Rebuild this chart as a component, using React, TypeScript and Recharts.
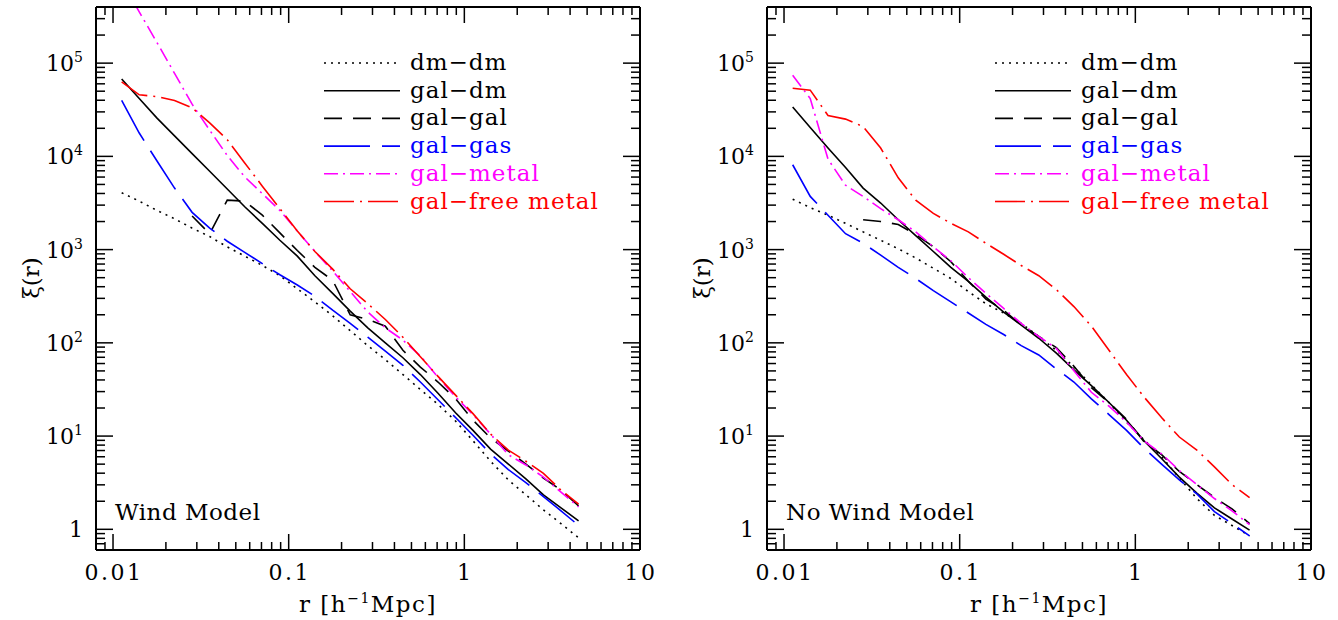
import React from 'react';
import { LineChart, Line, XAxis, YAxis, Legend } from 'recharts';

// pair separation r [h^-1 Mpc], 0.1 dex bins
const R = [
  0.0112, 0.0141, 0.0178, 0.0224, 0.0282, 0.0355, 0.0447, 0.0562, 0.0708, 0.0891,
  0.112, 0.141, 0.178, 0.224, 0.282, 0.355, 0.447, 0.562, 0.708, 0.891,
  1.12, 1.41, 1.78, 2.24, 2.82, 3.55, 4.47,
];

// Wind model
const WIND_DM_DM = [4070, 3310, 2630, 2140, 1700, 1380, 1070, 851, 676, 525, 380, 275, 195, 135, 93.3, 66.1, 45.7, 31.6, 21.9, 14.5, 8.91, 5.37, 3.39, 2.34, 1.62, 1.15, 0.81];
const WIND_GAL_DM = [67600, 41700, 25700, 16600, 10700, 6920, 4470, 2880, 1910, 1260, 851, 525, 339, 219, 145, 100, 69.2, 45.7, 28.8, 17.8, 11.5, 7.24, 5.01, 3.47, 2.34, 1.7, 1.23];
const WIND_GAL_GAL = [null, null, null, null, 2290, 1480, 3390, 3310, 2340, 1510, 977, 646, 468, 200, 178, 151, 83.2, 55.0, 38.0, 25.1, 14.8, 9.55, 6.92, 5.01, 3.55, 2.63, 1.78];
const WIND_GAL_GAS = [39800, 17800, 8910, 4570, 2510, 1700, 1230, 933, 708, 537, 417, 316, 224, 162, 115, 81.3, 57.5, 38.0, 24.5, 15.8, 10.2, 6.46, 4.37, 3.16, 2.24, 1.58, 1.1];
const WIND_GAL_METAL = [759000, 355000, 166000, 77600, 36300, 19100, 10200, 6030, 3980, 2630, 1580, 955, 589, 355, 214, 145, 107, 72.4, 42.7, 26.3, 17.0, 10.5, 6.31, 4.9, 3.63, 2.51, 1.74];
const WIND_GAL_FREE = [63100, 45700, 43700, 39800, 33100, 22900, 15100, 8510, 4790, 2750, 1580, 955, 617, 380, 263, 178, 115, 70.8, 43.7, 27.5, 17.4, 10.5, 7.08, 5.37, 3.98, 2.63, 1.86];

// No wind model
const NOWIND_DM_DM = [3470, 2820, 2340, 1910, 1550, 1260, 1020, 813, 631, 490, 355, 263, 209, 162, 117, 83.2, 55.0, 35.5, 22.9, 14.1, 9.12, 6.03, 3.55, 2.14, 1.41, 1.1, 0.85];
const NOWIND_GAL_DM = [33900, 20400, 12300, 7590, 4570, 3160, 2090, 1410, 955, 646, 457, 309, 214, 155, 112, 77.6, 51.3, 34.7, 22.9, 14.8, 8.91, 5.75, 3.63, 2.45, 1.7, 1.29, 0.98];
const NOWIND_GAL_GAL = [null, null, null, null, 2090, 2000, 1860, 1450, 1070, 741, 457, 295, 224, 155, 117, 89.1, 56.2, 33.1, 22.9, 15.1, 8.71, 6.31, 4.17, 3.02, 2.19, 1.66, 1.15];
const NOWIND_GAL_GAS = [8130, 3720, 2340, 1480, 1170, 871, 646, 490, 363, 275, 209, 158, 123, 93.3, 74.1, 52.5, 38.0, 25.1, 17.0, 11.5, 7.41, 5.01, 3.39, 2.4, 1.55, 1.15, 0.85];
const NOWIND_GAL_METAL = [74100, 41700, 9330, 4900, 3720, 2750, 2090, 1550, 1070, 759, 501, 339, 234, 162, 117, 87.1, 50.1, 29.5, 20.9, 14.1, 8.91, 6.46, 4.27, 3.02, 2.14, 1.58, 1.12];
const NOWIND_GAL_FREE = [53700, 51300, 27500, 25100, 20900, 12300, 5890, 3390, 2450, 1910, 1550, 1170, 891, 676, 525, 372, 245, 151, 83.2, 45.7, 26.3, 15.8, 9.77, 7.08, 4.68, 3.02, 2.19];

const X_TICKS = [
  0.009, 0.01, 0.02, 0.03, 0.04, 0.05, 0.06, 0.07, 0.08, 0.09,
  0.1, 0.2, 0.3, 0.4, 0.5, 0.6, 0.7, 0.8, 0.9,
  1, 2, 3, 4, 5, 6, 7, 8, 9, 10,
];
const Y_TICKS = [
  0.7, 0.8, 0.9, 1, 2, 3, 4, 5, 6, 7, 8, 9,
  10, 20, 30, 40, 50, 60, 70, 80, 90,
  100, 200, 300, 400, 500, 600, 700, 800, 900,
  1000, 2000, 3000, 4000, 5000, 6000, 7000, 8000, 9000,
  10000, 20000, 30000, 40000, 50000, 60000, 70000, 80000, 90000,
  100000, 200000, 300000,
];

const X_DOMAIN = [0.008, 10];
const Y_DOMAIN = [0.6, 400000];

const SERIES = [
  { key: 'dmdm', name: 'dm\u2212dm', color: '#000000', dash: '2 5' },
  { key: 'galdm', name: 'gal\u2212dm', color: '#000000', dash: undefined },
  { key: 'galgal', name: 'gal\u2212gal', color: '#000000', dash: '18 11' },
  { key: 'galgas', name: 'gal\u2212gas', color: '#0000ff', dash: '46 12' },
  { key: 'galmetal', name: 'gal\u2212metal', color: '#ff00ff', dash: '14 5 2 5' },
  { key: 'galfree', name: 'gal\u2212free metal', color: '#ff0000', dash: '30 6 2 6' },
];

const makeRows = (cols: Record<string, (number | null)[]>) =>
  R.map((r, i) => {
    const row: Record<string, number | null> = { r };
    Object.keys(cols).forEach(k => { row[k] = cols[k][i]; });
    return row;
  });

const WIND_ROWS = makeRows({
  dmdm: WIND_DM_DM, galdm: WIND_GAL_DM, galgal: WIND_GAL_GAL,
  galgas: WIND_GAL_GAS, galmetal: WIND_GAL_METAL, galfree: WIND_GAL_FREE,
});
const NOWIND_ROWS = makeRows({
  dmdm: NOWIND_DM_DM, galdm: NOWIND_GAL_DM, galgal: NOWIND_GAL_GAL,
  galgas: NOWIND_GAL_GAS, galmetal: NOWIND_GAL_METAL, galfree: NOWIND_GAL_FREE,
});

const FONT = '"DejaVu Serif", serif';
const MAJOR = 16;
const MINOR = 8;

const isMajor = (v: number) => Math.abs(Math.log10(v) - Math.round(Math.log10(v))) < 1e-6;

const BottomTick = (props: any) => {
  const { x, y, payload } = props;
  const v = payload.value;
  const major = isMajor(v);
  return (
    <g>
      <line x1={x} x2={x} y1={y} y2={y - (major ? MAJOR : MINOR)} stroke="#000" strokeWidth={1.5} />
      {major && (
        <text x={x + 1} y={y + 30} textAnchor="middle" fontSize={22} letterSpacing={2.5} fontFamily={FONT} fill="#000">
          {String(v)}
        </text>
      )}
    </g>
  );
};

// top axis is 1px tall, so its tick origin sits on the frame line
const TopTick = (props: any) => {
  const { x, y, payload } = props;
  const major = isMajor(payload.value);
  return <line x1={x} x2={x} y1={y} y2={y + (major ? MAJOR : MINOR)} stroke="#000" strokeWidth={1.5} />;
};

const LeftTick = (props: any) => {
  const { x, y, payload } = props;
  const v = payload.value;
  const major = isMajor(v);
  const e = Math.round(Math.log10(v));
  return (
    <g>
      <line x1={x} x2={x + (major ? MAJOR + 1 : MINOR + 1)} y1={y} y2={y} stroke="#000" strokeWidth={1.5} />
      {major && (
        <text x={x - 13} y={y + 8} textAnchor="end" fontSize={22} fontFamily={FONT} fill="#000">
          {e === 0 ? '1' : <>10<tspan dy={-9} fontSize={14}>{e}</tspan></>}
        </text>
      )}
    </g>
  );
};

const RightTick = (props: any) => {
  const { x, y, payload } = props;
  const major = isMajor(payload.value);
  return <line x1={x} x2={x - (major ? MAJOR + 1 : MINOR + 1)} y1={y} y2={y} stroke="#000" strokeWidth={1.5} />;
};

const LegendBox = () => (
  <svg width={300} height={170} style={{ overflow: 'visible', display: 'block' }}>
    {SERIES.map((s, i) => {
      const y = 14 + i * 27.7;
      return (
        <g key={s.key}>
          <line x1={0} x2={76} y1={y} y2={y} stroke={s.color} strokeWidth={1.6} strokeDasharray={s.dash} />
          <text x={86} y={y + 7} fill={s.color} fontSize={23} letterSpacing={1} fontFamily={FONT}>{s.name}</text>
        </g>
      );
    })}
  </svg>
);

const frame = { stroke: '#000', strokeWidth: 2 };

function Panel({ rows, left, width, right, title }: { rows: any[]; left: number; width: number; right: number; title: string }) {
  const plotLeft = 96;
  const plotRight = width - right;
  const midX = (plotLeft + plotRight) / 2;
  return (
    <div style={{ position: 'absolute', left, top: 0, width, height: 620 }}>
      <LineChart width={width} height={620} data={rows} margin={{ top: 6, right: right - 1, bottom: 0, left: 0 }}>
        <XAxis xAxisId="b" dataKey="r" type="number" scale="log" domain={X_DOMAIN} allowDataOverflow
          ticks={X_TICKS} interval={0} tickSize={0} tickMargin={0} tick={<BottomTick />}
          tickLine={false} axisLine={frame} height={70} />
        <XAxis xAxisId="t" dataKey="r" orientation="top" type="number" scale="log" domain={X_DOMAIN} allowDataOverflow
          ticks={X_TICKS} interval={0} tickSize={0} tickMargin={0} tick={<TopTick />}
          tickLine={false} axisLine={frame} height={1} />
        <YAxis yAxisId="l" type="number" scale="log" domain={Y_DOMAIN} allowDataOverflow
          ticks={Y_TICKS} interval={0} tickSize={0} tickMargin={0} tick={<LeftTick />}
          tickLine={false} axisLine={frame} width={96} />
        <YAxis yAxisId="r" orientation="right" type="number" scale="log" domain={Y_DOMAIN} allowDataOverflow
          ticks={Y_TICKS} interval={0} tickSize={0} tickMargin={0} tick={<RightTick />}
          tickLine={false} axisLine={frame} width={1} />
        <Legend layout="vertical" align="center" verticalAlign="middle" content={<LegendBox />}
          wrapperStyle={{ position: 'absolute', left: 324, top: 49, width: 300, height: 170 }} />
        {SERIES.map(s => (
          <Line key={s.key} xAxisId="b" yAxisId="l" dataKey={s.key} name={s.name} type="linear"
            stroke={s.color} strokeWidth={1.6} strokeDasharray={s.dash}
            dot={false} activeDot={false} connectNulls={false} isAnimationActive={false} />
        ))}
      </LineChart>
      <svg width={width} height={620} style={{ position: 'absolute', left: 0, top: 0, pointerEvents: 'none' }}>
        <text x={115} y={520} fontSize={23} letterSpacing={0.5} fontFamily={FONT} fill="#000">{title}</text>
        <text x={midX} y={612} textAnchor="middle" fontSize={23} letterSpacing={1.5} fontFamily={FONT} fill="#000">
          r [h<tspan dy={-9} fontSize={14}>{'\u22121'}</tspan><tspan dy={9}>Mpc]</tspan>
        </text>
        <text x={31} y={278} textAnchor="middle" dominantBaseline="central" fontSize={23} fontFamily={FONT}
          fill="#000" transform="rotate(-90 31 278)">
          {'\u03BE(r)'}
        </text>
      </svg>
    </div>
  );
}

export default function App() {
  return (
    <div style={{ position: 'absolute', left: 0, top: 0, width: 1338, height: 620, background: '#fff' }}>
      <Panel rows={WIND_ROWS} left={0} width={670} right={30} title="Wind Model" />
      <Panel rows={NOWIND_ROWS} left={671} width={667} right={27} title="No Wind Model" />
    </div>
  );
}
